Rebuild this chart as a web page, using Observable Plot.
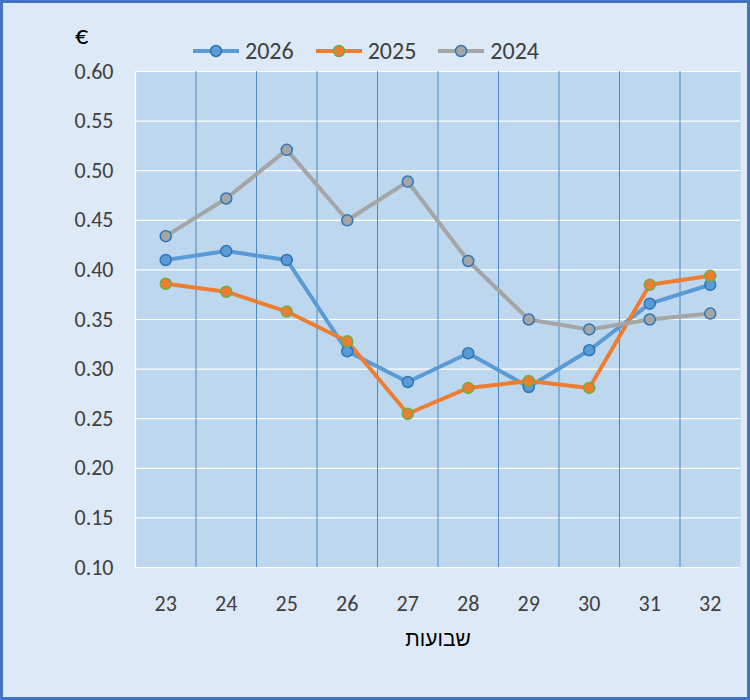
<!DOCTYPE html>
<html><head><meta charset="utf-8">
<script src="https://cdn.jsdelivr.net/npm/d3@7"></script>
<script src="https://cdn.jsdelivr.net/npm/@observablehq/plot@0.6"></script>
<style>
body{margin:0;background:#fff;}
#wrap{position:relative;width:744px;height:694px;border:3px solid #4472c4;background:#dde9f6;font-family:Calibri,Carlito,"Liberation Sans",sans-serif;overflow:hidden}
#legend{position:absolute;top:33px;left:188px;display:flex;gap:20px;font-size:24px;color:#404040}
.it{display:flex;align-items:center;gap:4px}
#euro{position:absolute;top:16px;left:72px;font-size:26px;color:#000}
</style></head><body>
<div id="wrap"><div id="euro">€</div><div id="legend"></div><div id="chart"></div></div>
<script>
const weeks=[23,24,25,26,27,28,29,30,31,32];
const v2026=[0.410,0.419,0.410,0.318,0.287,0.316,0.282,0.319,0.366,0.385];
const v2025=[0.386,0.378,0.358,0.328,0.255,0.281,0.288,0.281,0.385,0.394];
const v2024=[0.434,0.472,0.521,0.450,0.489,0.409,0.350,0.340,0.350,0.356];
const series=[
 {name:"2026",vals:v2026,line:"#5b9bd5",fill:"#5b9bd5",stroke:"#2e75b6"},
 {name:"2025",vals:v2025,line:"#ed7d31",fill:"#ed7d31",stroke:"#70ad47"},
 {name:"2024",vals:v2024,line:"#a5a5a5",fill:"#a5a5a5",stroke:"#2e75b6"}];
const yTicks=d3.range(0.10,0.601,0.05).map(d=>+d.toFixed(2));
const marks=[
 Plot.frame({fill:"#bdd7ee",stroke:null}),
 Plot.ruleY(yTicks,{stroke:"#fff",strokeWidth:1.2}),
 Plot.ruleX(weeks.slice(0,-1).map(d=>d+0.5),{stroke:"#2e75b6",strokeWidth:0.8}),
 Plot.ruleX([22.5],{stroke:"#fff",strokeWidth:1.2}),
];
const lines=[],dots=[];
for(const s of series){
 const data=weeks.map((w,i)=>({w,v:s.vals[i]}));
 lines.push(Plot.line(data,{x:"w",y:"v",stroke:s.line,strokeWidth:4}));
 dots.push(Plot.dot(data,{x:"w",y:"v",r:5.5,fill:s.fill,stroke:s.stroke,strokeWidth:1.5}));
}
const chart=Plot.plot({width:744,height:694,marginLeft:132,marginRight:7,marginTop:68,marginBottom:130,
 style:{background:"transparent",fontSize:"22px",color:"#404040",fontFamily:"Calibri,Carlito,'Liberation Sans',sans-serif"},
 x:{domain:[22.5,32.5],ticks:weeks,tickFormat:d=>String(d),tickSize:0,tickPadding:28,label:null},
 y:{domain:[0.10,0.60],ticks:yTicks,tickFormat:d=>d.toFixed(2),tickSize:0,tickPadding:22,label:null},
 marks:[...marks,...lines,...dots,
  Plot.text(["שבועות"],{frameAnchor:"bottom",dy:78,fontSize:21,fill:"#000"})]});
document.getElementById("chart").appendChild(chart);
const lg=document.getElementById("legend");
for(const s of series){
 const d=document.createElement("div");d.className="it";
 d.innerHTML=`<svg width="50" height="16"><line x1="2" x2="48" y1="8" y2="8" stroke="${s.line}" stroke-width="4"/><circle cx="25" cy="8" r="5.5" fill="${s.fill}" stroke="${s.stroke}" stroke-width="1.5"/></svg><span>${s.name}</span>`;
 lg.appendChild(d);
}
</script></body></html>
